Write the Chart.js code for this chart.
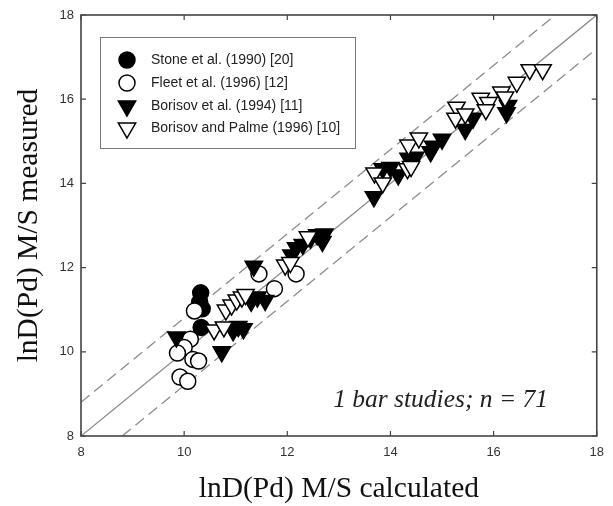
<!DOCTYPE html>
<html>
<head>
<meta charset="utf-8">
<script src="https://cdn.jsdelivr.net/npm/chart.js@4.4.0/dist/chart.umd.min.js"></script>
<style>
	html, body { margin: 0; padding: 0; background: #fff; }
	canvas { display: block; }
</style>
</head>
<body>
<canvas id="myChart" width="613" height="506"></canvas>
<script>
// values: [calculated, measured]
const stone = [[10.32, 11.40], [10.30, 11.18], [10.35, 11.02], [10.33, 10.58]];
const fleet = [[10.20, 10.97], [10.12, 10.30], [10.00, 10.10], [9.87, 9.97], [10.17, 9.82], [10.28, 9.78],
	[9.92, 9.40], [10.07, 9.30], [11.45, 11.85], [11.75, 11.50], [12.17, 11.85]];
const borisov = [[9.85, 10.35], [10.73, 10.00], [10.95, 10.50], [11.05, 10.60], [11.15, 10.55], [11.35, 12.03],
	[11.30, 11.20], [11.42, 11.30], [11.57, 11.22], [12.08, 12.30], [12.17, 12.47], [12.30, 12.55],
	[12.45, 12.70], [12.58, 12.78], [12.68, 12.62], [12.72, 12.80], [13.68, 13.68], [13.85, 14.35],
	[14.00, 14.38], [14.15, 14.20], [14.35, 14.60], [14.48, 14.62], [14.78, 14.75], [14.83, 14.88],
	[15.00, 15.05], [15.45, 15.28], [15.60, 15.55], [16.25, 15.68], [16.28, 15.85]];
const borisovPalme = [[10.58, 10.52], [10.77, 10.59], [10.81, 10.99], [10.92, 11.11], [11.02, 11.23],
	[11.12, 11.30], [11.19, 11.36], [11.96, 12.06], [12.06, 12.12], [12.40, 12.73], [13.69, 14.25],
	[13.85, 14.01], [14.33, 14.35], [14.40, 14.40], [14.35, 14.91], [14.55, 15.08], [15.28, 15.81],
	[15.26, 15.55], [15.45, 15.65], [15.75, 16.02], [15.90, 15.92], [15.85, 15.75], [16.15, 16.17],
	[16.22, 16.05], [16.45, 16.40], [16.70, 16.70], [16.95, 16.70]];

const oneToOne = [[8, 8], [18, 18]];
const upperBand = [[8, 8.8], [17.2, 18]];
const lowerBand = [[8.8, 8], [18, 17.2]];

const axisTicks = [8, 10, 12, 14, 16, 18];
const seriesNames = ['Stone et al. (1990) [20]', 'Fleet et al. (1996) [12]', 'Borisov et al. (1994) [11]', 'Borisov and Palme (1996) [10]'];
const xTitle = 'lnD(Pd) M/S calculated';
const yTitle = 'lnD(Pd) M/S measured';
const note = '1 bar studies; n = 71';

const CIRCLE_R = 8;
const TRI_R = 10;

const toXY = arr => arr.map(p => ({x: p[0], y: p[1]}));

function markerDataset(label, data, style, fill, order) {
	const r = style === 'circle' ? CIRCLE_R : TRI_R;
	return {
		label: label,
		data: toXY(data),
		pointStyle: style === 'circle' ? 'circle' : 'triangle',
		rotation: style === 'circle' ? 0 : 180,
		pointRadius: r,
		pointHoverRadius: r,
		backgroundColor: fill,
		borderColor: '#000',
		borderWidth: 1.5,
		order: order
	};
}

function lineDataset(data, dash) {
	return {
		label: '',
		data: toXY(data),
		showLine: true,
		pointRadius: 0,
		borderColor: '#8c8c8c',
		borderWidth: 1.3,
		borderDash: dash,
		fill: false,
		order: 10
	};
}

function drawMarker(ctx, style, fill, x, y) {
	ctx.beginPath();
	if (style === 'circle') {
		ctx.arc(x, y, CIRCLE_R, 0, Math.PI * 2);
	} else {
		const r = TRI_R;
		ctx.moveTo(x, y + r);
		ctx.lineTo(x - r * Math.sin(Math.PI / 3), y - r / 2);
		ctx.lineTo(x + r * Math.sin(Math.PI / 3), y - r / 2);
		ctx.closePath();
	}
	ctx.fillStyle = fill;
	ctx.fill();
	ctx.lineWidth = 1.5;
	ctx.strokeStyle = '#000';
	ctx.stroke();
}

const decorations = {
	id: 'decorations',
	afterDatasetsDraw(chart) {
		const ctx = chart.ctx;
		const a = chart.chartArea;
		const xs = chart.scales.x;
		const ys = chart.scales.y;
		ctx.save();

		// frame
		ctx.strokeStyle = '#444';
		ctx.lineWidth = 1.6;
		ctx.strokeRect(a.left, a.top, a.right - a.left, a.bottom - a.top);

		// inward ticks on all four sides
		ctx.lineWidth = 1.2;
		ctx.beginPath();
		axisTicks.forEach(v => {
			const px = xs.getPixelForValue(v);
			ctx.moveTo(px, a.bottom); ctx.lineTo(px, a.bottom - 5);
			ctx.moveTo(px, a.top); ctx.lineTo(px, a.top + 5);
			const py = ys.getPixelForValue(v);
			ctx.moveTo(a.left, py); ctx.lineTo(a.left + 5, py);
			ctx.moveTo(a.right, py); ctx.lineTo(a.right - 5, py);
		});
		ctx.stroke();

		// legend box
		ctx.fillStyle = '#fff';
		ctx.fillRect(100, 37, 255, 111);
		ctx.strokeStyle = '#777';
		ctx.lineWidth = 1;
		ctx.strokeRect(100.5, 37.5, 255, 111);
		const styles = [['circle', '#000'], ['circle', '#fff'], ['tri', '#000'], ['tri', '#fff']];
		const rows = [60, 83, 106, 128];
		ctx.font = '14px "Liberation Sans", Arial, sans-serif';
		ctx.textBaseline = 'middle';
		ctx.textAlign = 'left';
		seriesNames.forEach((name, i) => {
			drawMarker(ctx, styles[i][0], styles[i][1], 127, rows[i]);
			ctx.fillStyle = '#222';
			ctx.fillText(name, 151, rows[i]);
		});

		// note
		ctx.font = 'italic 25.5px "Liberation Serif", "Times New Roman", serif';
		ctx.fillStyle = '#222';
		ctx.textAlign = 'right';
		ctx.textBaseline = 'alphabetic';
		ctx.fillText(note, 548, 407);

		// axis titles
		ctx.font = '29.5px "Liberation Serif", "Times New Roman", serif';
		ctx.fillStyle = '#111';
		ctx.textAlign = 'center';
		ctx.textBaseline = 'middle';
		ctx.fillText(xTitle, (a.left + a.right) / 2, 489);
		ctx.translate(29, (a.top + a.bottom) / 2);
		ctx.rotate(-Math.PI / 2);
		ctx.fillText(yTitle, 0, 0);
		ctx.restore();
	}
};

const tickFont = {family: '"Liberation Sans", Arial, sans-serif', size: 13};

new Chart(document.getElementById('myChart'), {
	type: 'scatter',
	data: {
		datasets: [
			markerDataset(seriesNames[0], stone, 'circle', '#000', 4),
			markerDataset(seriesNames[1], fleet, 'circle', '#fff', 3),
			markerDataset(seriesNames[2], borisov, 'tri', '#000', 2),
			markerDataset(seriesNames[3], borisovPalme, 'tri', '#fff', 1),
			lineDataset(oneToOne, []),
			lineDataset(upperBand, [11, 6]),
			lineDataset(lowerBand, [11, 6])
		]
	},
	options: {
		responsive: false,
		animation: false,
		layout: {padding: {top: 15, right: 12, left: 0, bottom: 0}},
		plugins: {
			legend: {display: false},
			tooltip: {enabled: false}
		},
		scales: {
			x: {
				type: 'linear',
				min: 8,
				max: 18,
				grid: {display: false, drawTicks: false},
				border: {display: false},
				ticks: {stepSize: 2, padding: 9, color: '#333', font: tickFont, maxRotation: 0},
				afterFit: scale => { scale.height = 70; }
			},
			y: {
				type: 'linear',
				min: 8,
				max: 18,
				grid: {display: false, drawTicks: false},
				border: {display: false},
				ticks: {stepSize: 2, padding: 7, color: '#333', font: tickFont},
				afterFit: scale => { scale.width = 81; }
			}
		}
	},
	plugins: [decorations]
});
</script>
</body>
</html>
